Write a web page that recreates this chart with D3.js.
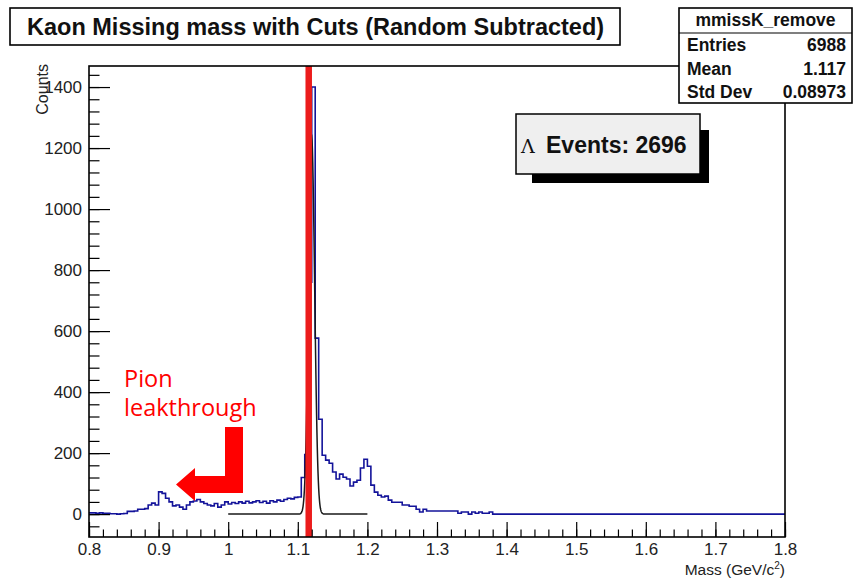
<!DOCTYPE html>
<html>
<head>
<meta charset="utf-8">
<script src="https://cdn.jsdelivr.net/npm/d3@7/dist/d3.min.js"></script>
<style>
  body { margin: 0; background: #fff; }
  svg { display: block; }
  text { font-family: "Liberation Sans", Arial, Helvetica, sans-serif; }
</style>
</head>
<body>
<svg id="chart" width="854" height="578"></svg>
<script>
// Histogram definition: 200 bins of 5 MeV from 0.8 to 1.8 GeV/c^2
const massRange = [0.8, 1.8];
const binWidth = 0.005;
const counts = [
  4, 4, 3, 4, 3, 3, 1, 1, 0, 1,
  2, 9, 9, 10, 16, 16, 18, 30, 36, 30,
  73, 68, 52, 40, 27, 30, 23, 16, 30, 40,
  43, 48, 40, 35, 30, 27, 35, 23, 30, 40,
  33, 38, 35, 40, 36, 42, 37, 40, 44, 38,
  42, 36, 44, 40, 46, 42, 48, 52, 50, 55,
  56, 120, 195, 760, 1400, 577, 311, 193, 177, 167,
  138, 115, 131, 121, 115, 92, 105, 111, 151, 180,
  157, 95, 72, 62, 56, 59, 46, 39, 39, 39,
  30, 30, 26, 26, 16, 7, 16, 10, 10, 10,
  10, 10, 10, 10, 10, 10, 3, 7, 7, 0,
  7, 3, 7, 3, 3, 7, 0, 0, 0, 0,
  0, 0, 0, 0, 0, 0, 0, 0, 0, 0,
  0, 0, 0, 0, 0, 0, 0, 0, 0, 0,
  0, 0, 0, 0, 0, 0, 0, 0, 0, 0,
  0, 0, 0, 0, 0, 0, 0, 0, 0, 0,
  0, 0, 0, 0, 0, 0, 0, 0, 0, 0,
  0, 0, 0, 0, 0, 0, 0, 0, 0, 0,
  0, 0, 0, 0, 0, 0, 0, 0, 0, 0,
  0, 0, 0, 0, 0, 0, 0, 0, 0, 0
];

// Axis ranges and ticks
const yRange = [-75, 1469];
const xMajorTicks = [0.8, 0.9, 1.0, 1.1, 1.2, 1.3, 1.4, 1.5, 1.6, 1.7, 1.8];
const xTickLabels = ["0.8", "0.9", "1", "1.1", "1.2", "1.3", "1.4", "1.5", "1.6", "1.7", "1.8"];
const yMajorTicks = [0, 200, 400, 600, 800, 1000, 1200, 1400];
const xMinorStep = 0.02;
const yMinorStep = 40;

// Gaussian fit of the Lambda peak
const fitConstant = 1240;
const fitMean = 1.1198;
const fitSigma = 0.0044;
const fitRange = [1.0, 1.2];

// Nominal Lambda mass marker
const lambdaMass = 1.1157;

// Statistics box and annotations
const histName = "mmissK_remove";
const statsLabels = ["Entries", "Mean", "Std Dev"];
const statsValues = ["6988", "1.117", "0.08973"];
const lambdaEvents = 2696;
const titleText = "Kaon Missing mass with Cuts (Random Subtracted)";

const svg = d3.select("#chart");
const frame = { left: 89, right: 785, top: 66, bottom: 537 };

const x = d3.scaleLinear().domain(massRange).range([frame.left, frame.right]);
const y = d3.scaleLinear().domain(yRange).range([frame.bottom, frame.top]);

svg.append("defs").append("clipPath").attr("id", "plotClip")
  .append("rect")
  .attr("x", frame.left).attr("y", frame.top)
  .attr("width", frame.right - frame.left).attr("height", frame.bottom - frame.top);

// Histogram outline (step line)
const steps = counts.map((c, i) => [massRange[0] + i * binWidth, c]);
steps.push([massRange[1], counts[counts.length - 1]]);
const stepLine = d3.line().x(d => x(d[0])).y(d => y(d[1])).curve(d3.curveStepAfter);

const plot = svg.append("g").attr("clip-path", "url(#plotClip)");
plot.append("path")
  .datum(steps)
  .attr("d", stepLine)
  .attr("fill", "none")
  .attr("stroke", "#13139a")
  .attr("stroke-width", 1.6);

// Fit function
const fitPts = d3.range(0, 401).map(k => {
  const m = fitRange[0] + (fitRange[1] - fitRange[0]) * k / 400;
  const z = (m - fitMean) / fitSigma;
  return [m, fitConstant * Math.exp(-0.5 * z * z)];
});
plot.append("path")
  .datum(fitPts)
  .attr("d", d3.line().x(d => x(d[0])).y(d => y(d[1])))
  .attr("fill", "none")
  .attr("stroke", "#1a1a1a")
  .attr("stroke-width", 1.5);

// Lambda mass line
svg.append("line")
  .attr("x1", x(lambdaMass)).attr("x2", x(lambdaMass))
  .attr("y1", frame.top).attr("y2", frame.bottom)
  .attr("stroke", "#ec1c1c")
  .attr("stroke-width", 6.5);

// Y axis: ticks drawn inside the frame
const yAxisG = svg.append("g").attr("transform", `translate(${frame.left},0)`);
yAxisG.call(d3.axisLeft(y).tickValues(yMajorTicks).tickSize(-21).tickPadding(7).tickFormat(d3.format("d")));
const yMinorG = svg.append("g").attr("transform", `translate(${frame.left},0)`);
yMinorG.call(d3.axisLeft(y)
  .tickValues(d3.range(Math.ceil(yRange[0] / yMinorStep) * yMinorStep, yRange[1], yMinorStep))
  .tickSize(-10.5).tickFormat(""));

// X axis
const xAxisG = svg.append("g").attr("transform", `translate(0,${frame.bottom})`);
xAxisG.call(d3.axisBottom(x).tickValues(xMajorTicks).tickSize(-15).tickPadding(6)
  .tickFormat((d, i) => xTickLabels[i]));
const xMinorG = svg.append("g").attr("transform", `translate(0,${frame.bottom})`);
xMinorG.call(d3.axisBottom(x)
  .tickValues(d3.range(0, Math.round((massRange[1] - massRange[0]) / xMinorStep) + 1)
    .map(k => massRange[0] + k * xMinorStep))
  .tickSize(-7.5).tickFormat(""));

[yAxisG, yMinorG, xAxisG, xMinorG].forEach(g => {
  g.select(".domain").remove();
  g.selectAll(".tick line").attr("stroke", "#000").attr("stroke-width", 1.2);
  g.selectAll(".tick text").attr("fill", "#222").style("font-size", "17px");
});

// Frame
svg.append("rect")
  .attr("x", frame.left).attr("y", frame.top)
  .attr("width", frame.right - frame.left).attr("height", frame.bottom - frame.top)
  .attr("fill", "none").attr("stroke", "#000").attr("stroke-width", 1.6);

// Axis titles
svg.append("text")
  .attr("transform", `translate(48,${frame.top - 2}) rotate(-90)`)
  .attr("text-anchor", "end")
  .style("font-size", "16px").attr("fill", "#222")
  .text("Counts");

const xt = svg.append("text")
  .attr("x", frame.right).attr("y", 575)
  .attr("text-anchor", "end")
  .style("font-size", "15.5px").attr("fill", "#222");
xt.append("tspan").text("Mass (GeV/c");
xt.append("tspan").attr("dy", -6).style("font-size", "10px").text("2");
xt.append("tspan").attr("dy", 6).text(")");

// Title box
svg.append("rect").attr("x", 10).attr("y", 8).attr("width", 610).attr("height", 37)
  .attr("fill", "#fff").attr("stroke", "#000").attr("stroke-width", 1.6);
svg.append("text").attr("x", 27).attr("y", 35)
  .style("font-size", "23.5px").style("font-weight", "bold").attr("fill", "#111")
  .text(titleText);

// Statistics box
const sb = { x: 679, y: 8, w: 173, h: 95 };
svg.append("rect").attr("x", sb.x).attr("y", sb.y).attr("width", sb.w).attr("height", sb.h)
  .attr("fill", "#fff").attr("stroke", "#000").attr("stroke-width", 1.6);
svg.append("line").attr("x1", sb.x).attr("x2", sb.x + sb.w).attr("y1", 33).attr("y2", 33)
  .attr("stroke", "#000").attr("stroke-width", 1.2);
svg.append("text").attr("x", sb.x + sb.w / 2).attr("y", 26).attr("text-anchor", "middle")
  .style("font-size", "17.5px").style("font-weight", "bold").attr("fill", "#111").text(histName);
statsLabels.forEach((lab, i) => {
  const by = 51 + i * 23.5;
  svg.append("text").attr("x", sb.x + 8).attr("y", by)
    .style("font-size", "17.5px").style("font-weight", "bold").attr("fill", "#111").text(lab);
  svg.append("text").attr("x", sb.x + sb.w - 6).attr("y", by).attr("text-anchor", "end")
    .style("font-size", "17.5px").style("font-weight", "bold").attr("fill", "#111").text(statsValues[i]);
});

// Lambda yield box with shadow
const lb = { x: 516, y: 114, w: 184, h: 60, s: 9, inset: 16 };
svg.append("rect").attr("x", lb.x + lb.w).attr("y", lb.y + lb.inset).attr("width", lb.s).attr("height", lb.h + lb.s - lb.inset)
  .attr("fill", "#000");
svg.append("rect").attr("x", lb.x + lb.inset).attr("y", lb.y + lb.h).attr("width", lb.w + lb.s - lb.inset).attr("height", lb.s)
  .attr("fill", "#000");
svg.append("rect").attr("x", lb.x).attr("y", lb.y).attr("width", lb.w).attr("height", lb.h)
  .attr("fill", "#efefef").attr("stroke", "#000").attr("stroke-width", 1.5);
svg.append("text").attr("x", lb.x + 5).attr("y", 153)
  .style("font-family", "'DejaVu Serif', serif")
  .style("font-size", "19px").attr("fill", "#111").text("Λ");
svg.append("text").attr("x", lb.x + 30).attr("y", 153)
  .style("font-size", "23px").style("font-weight", "bold").attr("fill", "#111")
  .text(`Events: ${lambdaEvents}`);

// Pion leakthrough annotation
const note = svg.append("text")
  .style("font-family", "'Open Sans', 'Noto Sans', sans-serif")
  .style("font-size", "23.5px").attr("fill", "#ff0000");
note.append("tspan").attr("x", 124).attr("y", 387).text("Pion");
note.append("tspan").attr("x", 124).attr("y", 416).text("leakthrough");

const arrowPts = [
  [225, 427], [243, 427], [243, 493], [195, 493], [195, 501],
  [176, 484.5], [195, 468], [195, 476], [225, 476]
];
svg.append("path")
  .attr("d", d3.line()(arrowPts) + "Z")
  .attr("fill", "#ff0000");
</script>
</body>
</html>
